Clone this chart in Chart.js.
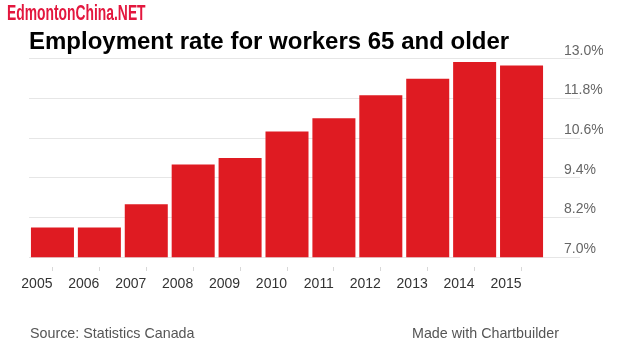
<!DOCTYPE html>
<html>
<head>
<meta charset="utf-8">
<script src="https://cdn.jsdelivr.net/npm/chart.js@4/dist/chart.umd.min.js"></script>
<style>
  body { margin: 0; background: #fff; }
  #wrap { position: relative; width: 620px; height: 349px; overflow: hidden; }
  #chart { position: absolute; left: 0; top: 0; }
  .brand { position: absolute; left: 7px; top: 2px; font: bold 22px/22px "Liberation Sans Narrow", "Liberation Sans", sans-serif;
           color: #e3173e; transform: scaleX(0.63); transform-origin: left top; white-space: nowrap; }
  .foot { position: absolute; top: 326px; font: 14.3px/14px "Liberation Sans", Arial, sans-serif; color: #555; white-space: nowrap; }
</style>
</head>
<body>
<div id="wrap">
  <canvas id="chart" width="620" height="349"></canvas>
  <div class="brand">EdmontonChina.NET</div>
  <div class="foot" style="left:30px">Source: Statistics Canada</div>
  <div class="foot" style="left:412px">Made with Chartbuilder</div>
</div>
<script>
// values
const years = ['2005', '2006', '2007', '2008', '2009', '2010', '2011', '2012', '2013', '2014', '2015'];
const rates = [7.9, 7.9, 8.6, 9.8, 10.0, 10.8, 11.2, 11.9, 12.4, 12.9, 12.8];
const yTicks = [7.0, 8.2, 9.4, 10.6, 11.8, 13.0];

const ctx = document.getElementById('chart');
new Chart(ctx, {
  type: 'bar',
  data: {
    labels: years,
    datasets: [{
      label: 'Employment rate',
      data: rates,
      backgroundColor: '#df1b22',
      borderWidth: 0,
      barPercentage: 0.917,
      categoryPercentage: 1
    }]
  },
  options: {
    responsive: false,
    animation: false,
    layout: { padding: { left: 29, right: 17, top: 0, bottom: 51 } },
    plugins: {
      legend: { display: false },
      tooltip: { enabled: false },
      title: {
        display: true,
        text: 'Employment rate for workers 65 and older',
        align: 'start',
        color: '#000',
        font: { family: '"Liberation Sans", Arial, sans-serif', size: 24, weight: 'bold' },
        padding: { top: 28, bottom: 2 }
      }
    },
    scales: {
      x: {
        border: { display: false },
        grid: {
          offset: false,
          drawOnChartArea: false,
          tickLength: 14,
          tickColor: '#d8d8d8',
          tickBorderDash: [0, 10, 4, 100]
        },
        ticks: {
          align: 'end',
          padding: 5,
          color: '#333',
          maxRotation: 0,
          font: { family: '"Liberation Sans", Arial, sans-serif', size: 14 }
        }
      },
      y: {
        position: 'right',
        min: 7,
        max: 13,
        border: { display: false },
        afterBuildTicks: axis => { axis.ticks = yTicks.map(v => ({ value: v })); },
        afterFit: axis => { axis.width = 58; },
        grid: { color: '#e6e6e6', tickColor: '#e6e6e6', tickLength: 35 },
        ticks: {
          padding: -16,
          labelOffset: -8,
          color: '#666',
          font: { family: '"Liberation Sans", Arial, sans-serif', size: 14 },
          callback: v => Number(v).toFixed(1) + '%'
        }
      }
    }
  }
});
</script>
</body>
</html>
